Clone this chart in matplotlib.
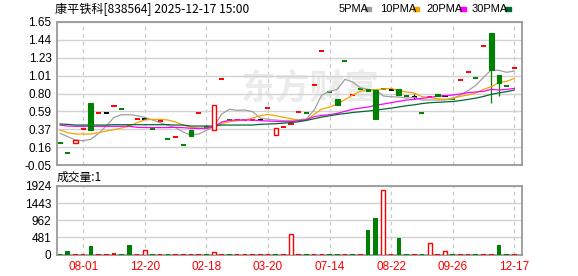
import numpy as np
import matplotlib
matplotlib.use("Agg")
import matplotlib.pyplot as plt

plt.rcParams['font.family'] = ['Liberation Sans', 'Noto Sans CJK SC', 'DejaVu Sans']

title = "康平铁科[838564] 2025-12-17 15:00"
date_labels = ["08-01", "12-20", "02-18", "03-20", "07-14", "08-22", "09-26", "12-17"]
date_pos = [3, 11, 19, 27, 35, 43, 51, 59]
price_labels = ["-0.05", "0.16", "0.37", "0.59", "0.80", "1.01", "1.23", "1.44", "1.65"]
vol_ticks = [0, 481, 962, 1443, 1924]

# daily candles
open_ = [0.207, 0.089, 0.217, 0.374, 0.687, 0.564, 0.564, 0.648, 0.612, 0.410,
         0.493, 0.493, 0.374, 0.473, 0.255, 0.279, 0.184, 0.370, 0.564, 0.400,
         0.370, 0.969, 0.485, 0.485, 0.485, 0.485, 0.485, 0.624, 0.303, 0.398,
         0.437, 0.576, 0.564, 0.897, 1.300, 0.814, 0.734, 1.183, 0.778, 0.850,
         0.850, 0.838, 0.850, 0.838, 0.850, 0.766, 0.755, 0.564, 0.755, 0.790,
         0.766, 0.740, 0.957, 1.052, 0.984, 1.365, 1.523, 1.020, 0.887, 1.099]
high = [0.207, 0.089, 0.253, 0.374, 0.687, 0.564, 0.564, 0.648, 0.612, 0.410,
        0.493, 0.493, 0.374, 0.473, 0.255, 0.279, 0.184, 0.370, 0.564, 0.400,
        0.663, 0.969, 0.485, 0.485, 0.485, 0.485, 0.485, 0.624, 0.386, 0.398,
        0.437, 0.576, 0.564, 0.897, 1.300, 0.814, 0.734, 1.183, 0.778, 0.850,
        0.855, 0.838, 0.850, 0.838, 0.850, 0.766, 0.790, 0.564, 0.755, 0.790,
        0.766, 0.740, 0.957, 1.052, 0.984, 1.365, 1.523, 1.020, 0.887, 1.099]
low = [0.207, 0.089, 0.217, 0.374, 0.366, 0.564, 0.564, 0.648, 0.612, 0.410,
       0.493, 0.493, 0.374, 0.473, 0.255, 0.279, 0.184, 0.290, 0.564, 0.400,
       0.370, 0.969, 0.485, 0.485, 0.485, 0.485, 0.485, 0.624, 0.303, 0.398,
       0.437, 0.576, 0.564, 0.897, 1.300, 0.814, 0.668, 1.183, 0.778, 0.850,
       0.830, 0.500, 0.850, 0.838, 0.780, 0.766, 0.740, 0.564, 0.755, 0.770,
       0.766, 0.740, 0.957, 1.052, 0.984, 1.365, 0.690, 0.774, 0.887, 1.099]
close = [0.207, 0.089, 0.253, 0.374, 0.366, 0.564, 0.564, 0.648, 0.612, 0.410,
         0.493, 0.493, 0.374, 0.473, 0.255, 0.279, 0.184, 0.290, 0.564, 0.400,
         0.663, 0.969, 0.485, 0.485, 0.485, 0.485, 0.485, 0.624, 0.386, 0.398,
         0.437, 0.576, 0.564, 0.897, 1.300, 0.814, 0.668, 1.183, 0.778, 0.850,
         0.835, 0.500, 0.850, 0.838, 0.780, 0.766, 0.755, 0.564, 0.755, 0.770,
         0.766, 0.740, 0.957, 1.052, 0.984, 1.365, 1.079, 0.920, 0.887, 1.099]
candle_color = list("ggrrgrkrgg" "rkgrgrggrg" "rrgrrrkrrr"
                    "rrgrrgrgrg" "gggkggkgrg" "kgrrgrgggr")

ma5 = [0.326, 0.287, 0.247, 0.239, 0.255, 0.326, 0.413, 0.516, 0.548, 0.548,
       0.536, 0.516, 0.485, 0.453, 0.421, 0.394, 0.342, 0.306, 0.318, 0.362,
       0.413, 0.556, 0.612, 0.600, 0.604, 0.584, 0.509, 0.493, 0.485, 0.477,
       0.481, 0.489, 0.497, 0.604, 0.782, 0.826, 0.849, 0.968, 0.937, 0.869,
       0.849, 0.841, 0.770, 0.762, 0.758, 0.746, 0.754, 0.723, 0.723, 0.723,
       0.723, 0.738, 0.782, 0.834, 0.897, 0.992, 1.079, 1.075, 1.052, 1.067]
ma10 = [0.366, 0.334, 0.318, 0.318, 0.318, 0.334, 0.354, 0.370, 0.390, 0.413,
        0.453, 0.485, 0.493, 0.493, 0.485, 0.461, 0.425, 0.398, 0.386, 0.386,
        0.405, 0.441, 0.465, 0.477, 0.485, 0.509, 0.536, 0.552, 0.536, 0.517,
        0.501, 0.477, 0.485, 0.552, 0.616, 0.639, 0.675, 0.727, 0.782, 0.826,
        0.845, 0.845, 0.853, 0.861, 0.834, 0.818, 0.806, 0.762, 0.754, 0.738,
        0.730, 0.746, 0.766, 0.782, 0.806, 0.849, 0.881, 0.929, 0.944, 0.980]
ma20 = [0.425, 0.413, 0.410, 0.410, 0.410, 0.410, 0.410, 0.410, 0.410, 0.410,
        0.398, 0.395, 0.395, 0.395, 0.395, 0.398, 0.394, 0.386, 0.386, 0.386,
        0.405, 0.461, 0.481, 0.485, 0.485, 0.485, 0.477, 0.473, 0.469, 0.465,
        0.465, 0.477, 0.489, 0.524, 0.540, 0.548, 0.564, 0.588, 0.612, 0.627,
        0.639, 0.659, 0.675, 0.691, 0.707, 0.723, 0.730, 0.742, 0.754, 0.766,
        0.774, 0.782, 0.794, 0.810, 0.818, 0.826, 0.849, 0.841, 0.849, 0.861]
ma30 = [0.437, 0.433, 0.425, 0.425, 0.425, 0.425, 0.425, 0.429, 0.429, 0.429,
        0.429, 0.429, 0.429, 0.429, 0.429, 0.425, 0.425, 0.413, 0.413, 0.413,
        0.413, 0.425, 0.425, 0.425, 0.425, 0.425, 0.433, 0.437, 0.441, 0.447,
        0.455, 0.465, 0.480, 0.500, 0.520, 0.535, 0.550, 0.562, 0.574, 0.583,
        0.592, 0.602, 0.614, 0.626, 0.640, 0.655, 0.665, 0.680, 0.690, 0.695,
        0.700, 0.705, 0.716, 0.730, 0.745, 0.765, 0.790, 0.808, 0.822, 0.841]

volume = [28, 85, 28, 28, 225, 28, 28, 55, 28, 280,
          28, 130, 28, 28, 28, 28, 28, 28, 28, 28,
          75, 28, 28, 28, 28, 28, 28, 28, 28, 28,
          580, 28, 28, 28, 28, 28, 28, 28, 28, 28,
          676, 1025, 1805, 28, 450, 28, 28, 28, 330, 28,
          100, 28, 28, 28, 28, 28, 28, 280, 28, 28]
vol_color = list("ggrrgrrrgg" "rrgrgrrrrg" "rrgrrrrrgr"
                 "rrgrrggrgr" "ggrrggrgrr" "rgrrgrrggr")

RED = '#ff0000'
GREEN = '#008000'
COLORS = {'r': RED, 'g': GREEN, 'k': '#000000'}
GRID = '#d2d2d2'
FRAME = '#9a9a9a'

fig = plt.figure(figsize=(5.78, 2.76), dpi=100)
left = 57 / 578
width = (522.3 - 57) / 578
ax = fig.add_axes([left, 1 - 165 / 276, width, (165 - 22) / 276])
axv = fig.add_axes([left, 1 - 254.5 / 276, width, (254.5 - 186) / 276])

x = np.arange(len(close))

for a in (ax, axv):
    a.set_xlim(-0.4, 60.04)
    for s in a.spines.values():
        s.set_color(FRAME)
        s.set_linewidth(1.3)
    for p in date_pos:
        a.axvline(p, color='#c8c8c8', lw=0.9, ls=(0, (3, 3)), zorder=0)
    a.tick_params(length=0, labelsize=8.5)

# price panel
ax.set_ylim(-0.05, 1.65)
ax.set_yticks(np.linspace(-0.05, 1.65, 9))
ax.set_yticklabels(price_labels)
ax.set_xticks([])
ax.yaxis.grid(True, color=GRID, lw=1)
ax.set_axisbelow(True)
ax.tick_params(axis='y', pad=4)

# watermark
ax.text(32.5, 0.87, "东方财富", fontsize=25, color='#ebebeb', fontweight='bold',
        family=['Noto Sans CJK SC'], ha='center', va='center', zorder=0.5)

o = np.array(open_)
c = np.array(close)
h = np.array(high)
lo = np.array(low)
cols = [COLORS[k] for k in candle_color]
flat = o == c
ax.vlines(x, lo, h, colors=cols, lw=0.9, zorder=3)
ax.hlines(c[flat], x[flat] - 0.33, x[flat] + 0.33,
          colors=[cl for cl, f in zip(cols, flat) if f], lw=1.4, zorder=3)

ax.plot(x, ma5, color='#a0a0a0', lw=0.9, zorder=4)
ax.plot(x, ma10, color='#f5a300', lw=0.9, zorder=4)
ax.plot(x, ma20, color='#ff00ff', lw=0.9, zorder=4)
ax.plot(x, ma30, color='#006b2e', lw=0.9, zorder=4)

up = (~flat) & (c > o)
dn = (~flat) & (c < o)
ax.bar(x[dn], (o - c)[dn], bottom=c[dn], width=0.62, color=GREEN,
       edgecolor=GREEN, lw=0.8, zorder=5)
ax.bar(x[up], (c - o)[up], bottom=o[up], width=0.55, color='white',
       edgecolor=RED, lw=1.0, zorder=5)

# volume panel
axv.set_ylim(0, 1924)
axv.set_yticks(vol_ticks)
axv.set_yticklabels([str(v) for v in vol_ticks])
axv.yaxis.grid(True, color=GRID, lw=1)
axv.set_axisbelow(True)
axv.tick_params(axis='y', pad=4)
axv.set_xticks(date_pos)
axv.set_xticklabels(date_labels, color=RED)
axv.tick_params(axis='x', pad=5)

vol = np.array(volume)
vc = np.array([COLORS[k] for k in vol_color])
hollow = (np.array(vol_color) == 'r') & (vol >= 70)
solid = ~hollow
axv.bar(x[solid], vol[solid], width=0.6, color=vc[solid], lw=0, zorder=3)
axv.bar(x[hollow], vol[hollow], width=0.5, color='white', edgecolor=RED,
        lw=1.0, zorder=3)

# header texts
fig.text(55 / 578, 1 - 9 / 276, title, fontsize=8.7, va='center',
         family=['Noto Sans CJK SC', 'DejaVu Sans'])
fig.text(57 / 578, 1 - 177 / 276, "成交量:1", fontsize=8.5, va='center',
         family=['Noto Sans CJK SC', 'DejaVu Sans'])

legend = [("5PMA", 339, 365, '#a0a0a0'), ("10PMA", 380, 413, '#f5a300'),
          ("20PMA", 426, 460, '#ff00ff'), ("30PMA", 472, 505, '#006b2e')]
for label, tx, mx, col in legend:
    fig.text(tx / 578, 1 - 9 / 276, label, fontsize=8, va='center')
    fig.patches.append(plt.Rectangle((mx / 578, 1 - 10.5 / 276), 6 / 578, 3 / 276,
                                     transform=fig.transFigure, color=col))

fig.savefig("out.png", dpi=100, facecolor='white')
